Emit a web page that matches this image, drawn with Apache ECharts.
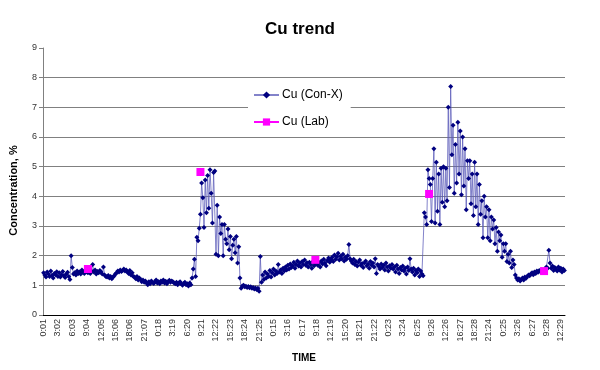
<!DOCTYPE html>
<html><head><meta charset="utf-8">
<script src="https://cdn.jsdelivr.net/npm/echarts@6/dist/echarts.min.js"></script>
<style>html,body{margin:0;padding:0;background:#fff}#c{width:600px;height:370px}</style>
</head><body><div id="c"></div>
<script>
var tickLabels = ['0:01','3:02','6:03','9:04','12:05','15:06','18:06','21:07','0:18','3:19','6:20','9:21','12:22','15:23','18:24','21:25','0:15','3:16','6:17','9:18','12:19','15:20','18:21','21:22','0:23','3:24','6:25','9:26','12:26','16:27','18:28','21:24','0:25','3:26','6:27','9:28','12:29'];
var pointsPerLabel = 12;
var conX = [
1.42,1.35,1.28,1.45,1.38,1.30,1.48,1.33,1.25,1.40,1.36,1.46,
1.30,1.42,1.28,1.35,1.47,1.32,1.26,1.38,1.44,1.30,1.20,2.00,
1.60,1.38,1.42,1.35,1.48,1.40,1.45,1.38,1.52,1.44,1.40,1.50,
1.46,1.42,1.55,1.40,1.48,1.70,1.45,1.52,1.38,1.47,1.42,1.50,
1.45,1.38,1.62,1.35,1.30,1.28,1.33,1.25,1.30,1.22,1.28,1.32,
1.38,1.42,1.48,1.45,1.52,1.47,1.50,1.55,1.48,1.52,1.45,1.40,
1.50,1.35,1.42,1.30,1.28,1.22,1.30,1.18,1.25,1.20,1.12,1.18,
1.10,1.15,1.08,1.02,1.12,1.05,1.15,1.10,1.06,1.12,1.18,1.08,
1.12,1.05,1.15,1.10,1.18,1.08,1.14,1.05,1.12,1.17,1.10,1.15,
1.12,1.08,1.05,1.10,1.02,1.08,1.12,1.05,1.00,1.06,1.10,1.02,
1.05,0.98,1.08,1.02,1.25,1.55,1.88,1.30,2.62,2.50,2.92,3.40,
4.45,3.95,2.95,4.55,3.45,4.70,3.60,4.90,4.10,3.10,4.80,4.85,
2.05,3.70,2.00,3.30,2.75,3.05,2.00,3.05,2.55,2.40,2.90,2.20,
2.65,1.90,2.35,2.55,2.10,2.65,1.75,2.30,1.25,0.90,0.98,1.00,
0.95,0.97,0.93,0.96,0.92,0.95,0.90,0.93,0.88,0.91,0.86,0.90,
0.80,1.97,1.10,1.35,1.20,1.45,1.25,1.38,1.30,1.50,1.28,1.42,
1.55,1.35,1.48,1.40,1.70,1.45,1.52,1.40,1.58,1.48,1.62,1.52,
1.68,1.55,1.72,1.60,1.66,1.78,1.58,1.70,1.82,1.65,1.75,1.62,
1.80,1.70,1.85,1.68,1.76,1.62,1.78,1.70,1.58,1.80,1.66,1.74,
1.85,1.68,1.76,1.62,1.82,1.72,1.88,1.75,1.66,1.84,1.92,1.78,
1.86,1.95,1.80,2.02,1.88,1.96,2.08,1.85,1.98,1.90,2.05,1.82,
1.95,1.88,2.00,2.38,1.90,1.82,1.75,1.88,1.70,1.80,1.65,1.78,
1.85,1.68,1.74,1.60,1.76,1.82,1.66,1.72,1.58,1.80,1.68,1.75,
1.62,1.90,1.40,1.70,1.64,1.55,1.72,1.60,1.68,1.52,1.75,1.62,
1.48,1.66,1.58,1.70,1.55,1.62,1.45,1.68,1.55,1.40,1.60,1.52,
1.65,1.48,1.58,1.38,1.62,1.50,1.90,1.55,1.45,1.58,1.35,1.50,
1.42,1.55,1.30,1.48,1.38,1.32,3.45,3.30,3.05,4.90,4.60,4.40,
3.15,4.60,5.60,3.10,5.15,3.50,4.75,3.05,4.95,3.80,5.00,3.65,
4.95,3.85,7.00,4.30,7.70,5.40,6.40,4.10,5.75,4.45,6.50,4.75,
6.20,4.05,6.00,4.35,5.60,3.55,5.20,4.60,5.20,3.75,4.75,3.35,
5.15,3.65,4.75,3.05,4.40,3.40,3.85,2.60,4.00,3.30,3.65,2.60,
3.55,2.50,3.30,2.90,3.20,2.40,2.95,2.15,2.80,2.50,2.70,1.95,
2.40,2.15,2.40,1.80,2.05,1.75,2.15,1.60,1.85,1.70,1.35,1.25,
1.18,1.22,1.15,1.20,1.25,1.18,1.28,1.24,1.30,1.35,1.32,1.38,
1.42,1.36,1.45,1.40,1.48,1.44,1.50,1.46,1.52,1.48,1.50,1.55,
1.62,1.58,2.18,1.75,1.58,1.65,1.50,1.60,1.55,1.48,1.62,1.52,
1.58,1.45,1.55,1.50
];
var labIndex = [37, 131, 227, 322, 418];
var labValues = [1.55, 4.82, 1.86, 4.08, 1.48];

var categories = conX.map(function (v, i) {
  return (i % pointsPerLabel === 0 && tickLabels[i / pointsPerLabel]) ? tickLabels[i / pointsPerLabel] : ('t' + i);
});
var lab = conX.map(function () { return null; });
labIndex.forEach(function (k, j) { lab[k] = labValues[j]; });

var FONT = 'Arial, "Liberation Sans", sans-serif';
var chart = echarts.init(document.getElementById('c'), null, {renderer: 'canvas'});
chart.setOption({
  animation: false,
  backgroundColor: '#fff',
  title: {
    text: 'Cu trend', left: 'center', top: 16,
    textStyle: {fontFamily: FONT, fontSize: 17, fontWeight: 'bold', color: '#000'}
  },
  legend: {
    orient: 'vertical', left: 248, top: 82,
    backgroundColor: '#fff', padding: [6, 8, 6, 5],
    itemWidth: 25, itemHeight: 9, itemGap: 13,
    textStyle: {fontFamily: FONT, fontSize: 12, color: '#000', lineHeight: 14, padding: [0, 0, 0, -2]},
    data: ['Cu (Con-X)', 'Cu (Lab)']
  },
  grid: {left: 40, right: 35, top: 48, bottom: 55, containLabel: false},
  xAxis: {
    type: 'category', data: categories, boundaryGap: true,
    name: 'TIME', nameLocation: 'middle', nameGap: 38,
    nameTextStyle: {fontFamily: FONT, fontSize: 10, fontWeight: 'bold', color: '#000'},
    axisLine: {lineStyle: {color: '#000', width: 1}},
    axisTick: {interval: 0, length: 4, lineStyle: {color: '#000'}},
    axisLabel: {
      interval: pointsPerLabel - 1, rotate: 90, margin: 4,
      fontFamily: FONT, fontSize: 9, color: '#333'
    },
    splitLine: {show: false}
  },
  yAxis: {
    type: 'value', min: 0, max: 9, interval: 1,
    name: 'Concentration, %', nameLocation: 'middle', nameGap: 24, nameRotate: 90,
    nameTextStyle: {fontFamily: FONT, fontSize: 11, fontWeight: 'bold', color: '#000', padding: [0, 18, 0, 0]},
    axisLine: {show: true, lineStyle: {color: '#808080'}},
    axisTick: {show: true, length: 4, lineStyle: {color: '#808080'}},
    axisLabel: {fontFamily: FONT, fontSize: 9, color: '#333', margin: 6},
    splitLine: {show: true, showMaxLine: false, lineStyle: {color: '#808080', width: 1}}
  },
  series: [
    {
      name: 'Cu (Con-X)', type: 'line', data: conX,
      symbol: 'diamond', symbolSize: 5, showAllSymbol: true,
      itemStyle: {color: '#000080'},
      lineStyle: {color: '#5a5ab8', width: 1, opacity: 0.75},
      z: 2
    },
    {
      name: 'Cu (Lab)', type: 'line', data: lab, connectNulls: false,
      symbol: 'rect', symbolSize: 8, showAllSymbol: true,
      itemStyle: {color: '#FF00FF'},
      lineStyle: {color: '#FF00FF', width: 1},
      z: 3
    }
  ]
});
</script>
</body></html>
